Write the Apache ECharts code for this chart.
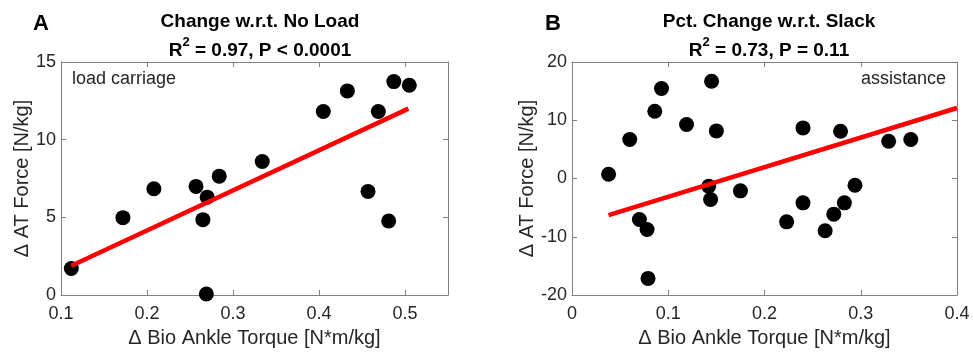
<!DOCTYPE html>
<html><head><meta charset="utf-8">
<script src="https://cdn.jsdelivr.net/npm/echarts@6/dist/echarts.min.js"></script>
<style>html,body{margin:0;padding:0;background:#fff}#c{width:973px;height:352px}</style>
</head><body><div id="c"></div>
<script>
// Panel A data
const aX = [0.112,0.172,0.208,0.257,0.270,0.265,0.284,0.269,0.334,0.405,0.433,0.457,0.469,0.481,0.487,0.505];
const aY = [1.71,4.98,6.84,6.99,6.30,4.85,7.65,0.06,8.59,11.81,13.14,6.67,11.81,4.76,13.74,13.50];
const aFitX = [0.112,0.504];
const aFitY = [1.88,12.0];
// Panel B data
const bX = [0.038,0.060,0.086,0.093,0.070,0.078,0.079,0.119,0.145,0.150,0.142,0.144,0.175,0.223,0.240,0.240,0.263,0.272,0.279,0.283,0.294,0.329,0.352];
const bY = [0.74,6.69,11.54,15.44,-7.03,-8.75,-17.15,9.26,16.69,8.17,-1.32,-3.60,-2.12,-7.44,8.69,-4.18,-8.98,-6.12,8.11,-4.18,-1.15,6.40,6.69];
const bFitX = [0.038,0.4];
const bFitY = [-6.3,12.1];
// Axis ticks / text
const aXTicks = {min:0.1,max:0.55,interval:0.1};
const aYTicks = {min:0,max:15,interval:5};
const bXTicks = {min:0,max:0.4,interval:0.1};
const bYTicks = {min:-20,max:20,interval:10};
const xName = 'Δ Bio Ankle Torque [N*m/kg]';
const yName = 'Δ AT Force [N/kg]';
const titlesA = ['Change w.r.t. No Load', '0.97', 'P < 0.0001'];
const titlesB = ['Pct. Change w.r.t. Slack', '0.73', 'P = 0.11'];

const FONT = 'Liberation Sans, Arial, sans-serif';
const TXT = '#262626';
const AX = '#808080';
const pair = (xs, ys) => xs.map((x,i)=>[x,ys[i]]);

function xAxes(gi, t){
  return [
    {type:'value',gridIndex:gi,min:t.min,max:t.max,interval:t.interval,position:'bottom',
     name:xName,nameLocation:'middle',nameGap:33,nameTextStyle:{fontFamily:FONT,fontSize:20,color:TXT},
     axisLine:{onZero:false,lineStyle:{color:AX,width:1}},axisTick:{inside:true,length:5,lineStyle:{color:AX}},
     axisLabel:{fontFamily:FONT,fontSize:18,color:TXT,margin:10,showMaxLabel:t.max===0.4,
       formatter:v=>String(+v.toFixed(2))},
     splitLine:{show:false}},
    {type:'value',gridIndex:gi,min:t.min,max:t.max,interval:t.interval,position:'top',
     axisLine:{onZero:false,lineStyle:{color:AX,width:1}},axisTick:{inside:true,length:5,lineStyle:{color:AX}},
     axisLabel:{show:false},splitLine:{show:false}}
  ];
}
function yAxes(gi, t){
  return [
    {type:'value',gridIndex:gi,min:t.min,max:t.max,interval:t.interval,position:'left',
     name:yName,nameLocation:'middle',nameGap:24,nameRotate:90,nameTextStyle:{fontFamily:FONT,fontSize:20,color:TXT},
     axisLine:{onZero:false,lineStyle:{color:AX,width:1}},axisTick:{inside:true,length:5,lineStyle:{color:AX}},
     axisLabel:{fontFamily:FONT,fontSize:18,color:TXT,margin:5,padding:[6,0,0,0]},splitLine:{show:false}},
    {type:'value',gridIndex:gi,min:t.min,max:t.max,interval:t.interval,position:'right',
     axisLine:{onZero:false,lineStyle:{color:AX,width:1}},axisTick:{inside:true,length:5,lineStyle:{color:AX}},
     axisLabel:{show:false},splitLine:{show:false}}
  ];
}
const TS = {fontFamily:FONT,fontSize:19,fontWeight:'bold',color:'#000'};
const rich = {
  n:{fontFamily:FONT,fontSize:19,fontWeight:'bold',color:'#000',lineHeight:24,verticalAlign:'bottom'},
  s:{fontFamily:FONT,fontSize:13,fontWeight:'bold',color:'#000',lineHeight:24,verticalAlign:'top',padding:[0,0,10,0]}
};
function statLine(t){ return '{n|R}{s|2}{n| = '+t[1]+', '+t[2]+'}'; }

const chart = echarts.init(document.getElementById('c'));
chart.setOption({
  animation:false,
  backgroundColor:'#fff',
  grid:[
    {left:61,top:62,width:387,height:233,outerBoundsMode:'none',containLabel:false},
    {left:572,top:62,width:385,height:233,outerBoundsMode:'none',containLabel:false}
  ],
  xAxis:[...xAxes(0,aXTicks),...xAxes(1,bXTicks)],
  yAxis:[...yAxes(0,aYTicks),...yAxes(1,bYTicks)],
  title:[
    {text:titlesA[0],left:255,top:7,textAlign:'center',textStyle:TS},
    {text:statLine(titlesA),left:255,top:31,textAlign:'center',textStyle:{rich:rich}},
    {text:titlesB[0],left:764,top:7,textAlign:'center',textStyle:TS},
    {text:statLine(titlesB),left:764,top:31,textAlign:'center',textStyle:{rich:rich}},
    {text:'A',left:28,top:8,textStyle:{fontFamily:FONT,fontSize:22,fontWeight:'bold',color:'#000'}},
    {text:'B',left:540,top:8,textStyle:{fontFamily:FONT,fontSize:22,fontWeight:'bold',color:'#000'}}
  ],
  graphic:[
    {type:'text',left:72,top:70,style:{text:'load carriage',fontFamily:FONT,fontSize:18,fill:TXT}},
    {type:'text',right:27,top:70,style:{text:'assistance',fontFamily:FONT,fontSize:18,fill:TXT}}
  ],
  series:[
    {type:'scatter',xAxisIndex:0,yAxisIndex:0,data:pair(aX,aY),symbolSize:15,itemStyle:{color:'#000',opacity:1},z:3},
    {type:'line',xAxisIndex:0,yAxisIndex:0,data:pair(aFitX,aFitY),showSymbol:false,lineStyle:{color:'#f00',width:4.5},z:4},
    {type:'scatter',xAxisIndex:2,yAxisIndex:2,data:pair(bX,bY),symbolSize:15,itemStyle:{color:'#000',opacity:1},z:3},
    {type:'line',xAxisIndex:2,yAxisIndex:2,data:pair(bFitX,bFitY),showSymbol:false,lineStyle:{color:'#f00',width:4.5},z:4}
  ]
});
</script></body></html>
